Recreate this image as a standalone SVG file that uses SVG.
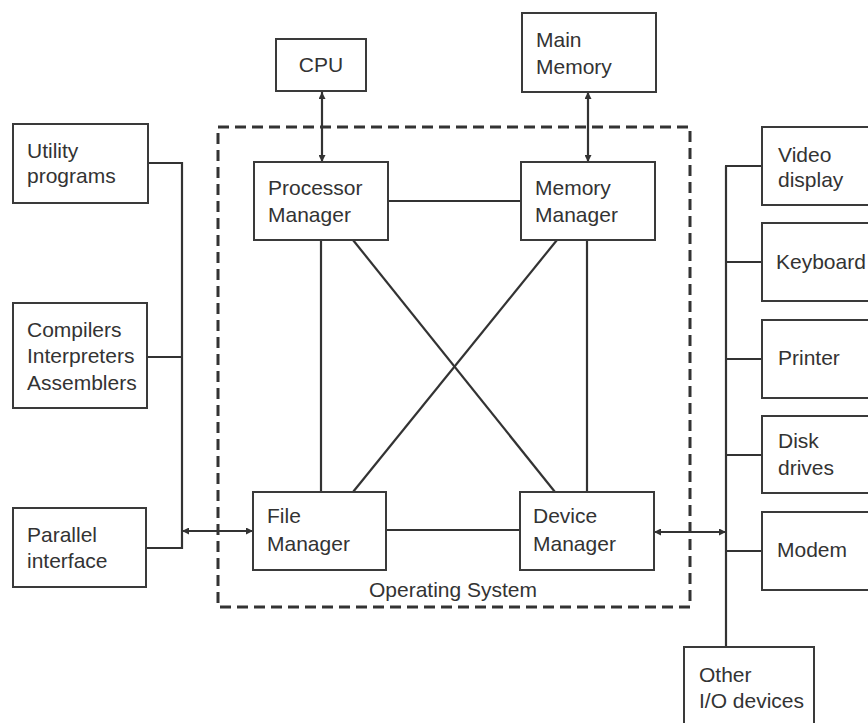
<svg xmlns="http://www.w3.org/2000/svg" width="868" height="723" viewBox="0 0 868 723">
  <style>
    .box { fill: #ffffff; stroke: #3a3a3a; stroke-width: 2; }
    .lbl { font-family: "Liberation Sans", Arial, sans-serif; font-size: 21px; fill: #333333; }
    .wire { fill: none; stroke: #333333; stroke-width: 2.2; }
    .os { fill: none; stroke: #333333; stroke-width: 3; stroke-dasharray: 11 6; }
  </style>
  <defs>
    <marker id="head" viewBox="0 0 10 10" refX="10" refY="5" markerWidth="9" markerHeight="7" markerUnits="userSpaceOnUse" orient="auto-start-reverse">
      <path d="M0,0 L10,5 L0,10 Z" fill="#333333"/>
    </marker>
  </defs>
  <rect width="868" height="723" fill="#ffffff"/>

  <!-- operating system boundary -->
  <g id="operating-system">
    <rect class="os" x="218" y="127" width="472" height="480"/>
    <text class="lbl" x="453" y="597" text-anchor="middle">Operating System</text>
  </g>

  <!-- connectors -->
  <g id="connectors">
    <!-- hardware links -->
    <line class="wire" x1="322" y1="92" x2="322" y2="162" marker-start="url(#head)" marker-end="url(#head)"/>
    <line class="wire" x1="588" y1="92" x2="588" y2="162" marker-start="url(#head)" marker-end="url(#head)"/>
    <!-- manager mesh -->
    <line class="wire" x1="388" y1="201" x2="521" y2="201"/>
    <line class="wire" x1="386" y1="530" x2="520" y2="530"/>
    <line class="wire" x1="321" y1="240" x2="321" y2="492"/>
    <line class="wire" x1="587" y1="240" x2="587" y2="492"/>
    <line class="wire" x1="353" y1="240" x2="555" y2="492"/>
    <line class="wire" x1="557" y1="240" x2="353" y2="492"/>
    <!-- software bus -->
    <polyline class="wire" points="148,163 182,163 182,548 146,548"/>
    <line class="wire" x1="147" y1="357" x2="182" y2="357"/>
    <line class="wire" x1="182" y1="531" x2="253" y2="531" marker-start="url(#head)" marker-end="url(#head)"/>
    <!-- device bus -->
    <line class="wire" x1="726" y1="166" x2="726" y2="647"/>
    <line class="wire" x1="725" y1="166" x2="762" y2="166"/>
    <line class="wire" x1="726" y1="262" x2="762" y2="262"/>
    <line class="wire" x1="726" y1="359" x2="762" y2="359"/>
    <line class="wire" x1="726" y1="455" x2="762" y2="455"/>
    <line class="wire" x1="726" y1="551" x2="762" y2="551"/>
    <line class="wire" x1="654" y1="532" x2="726" y2="532" marker-start="url(#head)" marker-end="url(#head)"/>
  </g>

  <!-- hardware -->
  <g id="cpu">
    <rect class="box" x="276" y="39" width="90" height="52"/>
    <text class="lbl" x="321" y="72" text-anchor="middle">CPU</text>
  </g>
  <g id="main-memory">
    <rect class="box" x="522" y="13" width="134" height="79"/>
    <text class="lbl" x="536" y="47">Main</text>
    <text class="lbl" x="536" y="74">Memory</text>
  </g>

  <!-- managers -->
  <g id="processor-manager">
    <rect class="box" x="254" y="162" width="134" height="78"/>
    <text class="lbl" x="268" y="195">Processor</text>
    <text class="lbl" x="268" y="222">Manager</text>
  </g>
  <g id="memory-manager">
    <rect class="box" x="521" y="162" width="134" height="78"/>
    <text class="lbl" x="535" y="195">Memory</text>
    <text class="lbl" x="535" y="222">Manager</text>
  </g>
  <g id="file-manager">
    <rect class="box" x="253" y="492" width="133" height="78"/>
    <text class="lbl" x="267" y="523">File</text>
    <text class="lbl" x="267" y="551">Manager</text>
  </g>
  <g id="device-manager">
    <rect class="box" x="520" y="492" width="134" height="78"/>
    <text class="lbl" x="533" y="523">Device</text>
    <text class="lbl" x="533" y="551">Manager</text>
  </g>

  <!-- software -->
  <g id="utility-programs">
    <rect class="box" x="13" y="124" width="135" height="79"/>
    <text class="lbl" x="27" y="158">Utility</text>
    <text class="lbl" x="27" y="183">programs</text>
  </g>
  <g id="language-tools">
    <rect class="box" x="13" y="303" width="134" height="105"/>
    <text class="lbl" x="27" y="337">Compilers</text>
    <text class="lbl" x="27" y="363">Interpreters</text>
    <text class="lbl" x="27" y="390">Assemblers</text>
  </g>
  <g id="parallel-interface">
    <rect class="box" x="13" y="508" width="133" height="79"/>
    <text class="lbl" x="27" y="542">Parallel</text>
    <text class="lbl" x="27" y="568">interface</text>
  </g>

  <!-- devices -->
  <g id="video-display">
    <rect class="box" x="762" y="127" width="130" height="78"/>
    <text class="lbl" x="778" y="162">Video</text>
    <text class="lbl" x="778" y="187">display</text>
  </g>
  <g id="keyboard">
    <rect class="box" x="762" y="223" width="130" height="78"/>
    <text class="lbl" x="776" y="269">Keyboard</text>
  </g>
  <g id="printer">
    <rect class="box" x="762" y="320" width="130" height="78"/>
    <text class="lbl" x="778" y="365">Printer</text>
  </g>
  <g id="disk-drives">
    <rect class="box" x="762" y="416" width="130" height="77"/>
    <text class="lbl" x="778" y="448">Disk</text>
    <text class="lbl" x="778" y="475">drives</text>
  </g>
  <g id="modem">
    <rect class="box" x="762" y="512" width="130" height="78"/>
    <text class="lbl" x="777" y="557">Modem</text>
  </g>
  <g id="other-io">
    <rect class="box" x="684" y="647" width="130" height="90"/>
    <text class="lbl" x="699" y="682">Other</text>
    <text class="lbl" x="699" y="708">I/O devices</text>
  </g>
</svg>
